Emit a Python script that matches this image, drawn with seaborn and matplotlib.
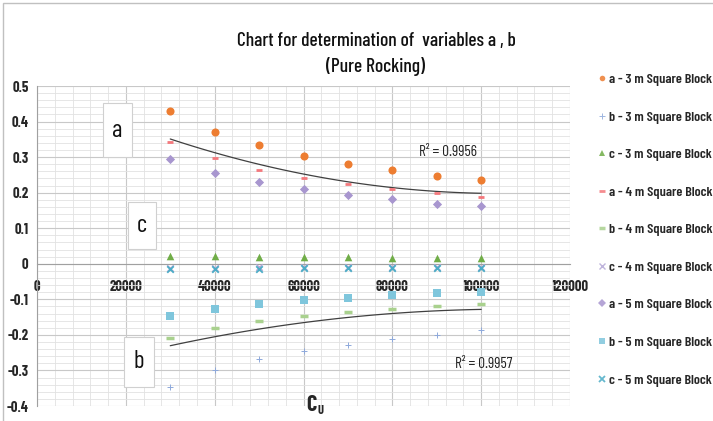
import numpy as np
import pandas as pd
import matplotlib
matplotlib.use("Agg")
import matplotlib.pyplot as plt
from matplotlib.patches import Rectangle
from matplotlib.ticker import MultipleLocator
from matplotlib.lines import Line2D
import seaborn as sns

sns.set_style("white")
FONT = ["Barlow Condensed", "Roboto Condensed", "Archivo Narrow", "DejaVu Sans"]
plt.rcParams["font.family"] = FONT

cu = [30000, 40000, 50000, 60000, 70000, 80000, 90000, 100000]

a_3m = [0.430, 0.372, 0.334, 0.304, 0.282, 0.263, 0.248, 0.236]
b_3m = [-0.347, -0.300, -0.268, -0.244, -0.228, -0.212, -0.199, -0.187]
c_3m = [0.022, 0.021, 0.020, 0.019, 0.018, 0.017, 0.016, 0.015]
a_4m = [0.342, 0.297, 0.264, 0.242, 0.223, 0.211, 0.198, 0.187]
b_4m = [-0.208, -0.181, -0.161, -0.146, -0.135, -0.126, -0.120, -0.112]
c_4m = [-0.012, -0.011, -0.010, -0.010, -0.009, -0.009, -0.009, -0.008]
a_5m = [0.295, 0.256, 0.229, 0.209, 0.193, 0.181, 0.169, 0.162]
b_5m = [-0.146, -0.127, -0.113, -0.103, -0.096, -0.089, -0.083, -0.078]
c_5m = [-0.016, -0.015, -0.014, -0.013, -0.012, -0.012, -0.011, -0.011]

series = [
    ("a - 3 m Square Block", a_3m, "o", "#ED7D31", 34, 0.0),
    ("b - 3 m Square Block", b_3m, "+", "#8EA9DB", 25, 0.7),
    ("c - 3 m Square Block", c_3m, "^", "#70AD47", 30, 0.0),
    ("a - 4 m Square Block", a_4m, "_", "#F4787C", 16, 2.0),
    ("b - 4 m Square Block", b_4m, "_", "#A9D18E", 30, 2.5),
    ("c - 4 m Square Block", c_4m, "x", "#B4A7D6", 22, 1.0),
    ("a - 5 m Square Block", a_5m, "D", "#A896CF", 22, 0.0),
    ("b - 5 m Square Block", b_5m, "s", "#7FC6DC", 30, 0.0),
    ("c - 5 m Square Block", c_5m, "x", "#4BACC6", 22, 1.3),
]

fig = plt.figure(figsize=(7.13, 4.21), dpi=100)
ax = fig.add_axes([37 / 713, 1 - 406 / 421, (570 - 37) / 713, (406 - 86) / 421])

ax.set_xlim(0, 120000)
ax.set_ylim(-0.4, 0.5)
ax.xaxis.set_major_locator(MultipleLocator(20000))
ax.xaxis.set_minor_locator(MultipleLocator(4000))
ax.yaxis.set_major_locator(MultipleLocator(0.1))
ax.yaxis.set_minor_locator(MultipleLocator(0.02))
ax.grid(which="major", color="#c8c8c8", linewidth=0.8)
ax.grid(which="minor", color="#e2e2e2", linewidth=0.6)
ax.set_axisbelow(True)

handles = []
for label, vals, mk, col, s, lw in series:
    if mk in ("+", "x", "_"):
        sns.scatterplot(x=cu, y=vals, marker=mk, color=col, s=s, linewidth=lw, ax=ax, zorder=3)
    else:
        sns.scatterplot(x=cu, y=vals, marker=mk, color=col, s=s, linewidth=0, ax=ax, zorder=3)
    handles.append(Line2D([], [], linestyle="none", marker=mk, color=col, alpha=0.85,
                          markersize=4 if mk not in ("+", "x", "_") else 5,
                          markeredgewidth=lw if lw else 0, label=label))

# polynomial (order 2) trendlines through all a and all b points
x_all = cu * 3
a_all = a_3m + a_4m + a_5m
b_all = b_3m + b_4m + b_5m
sns.regplot(x=x_all, y=a_all, order=2, ci=None, scatter=False, truncate=True,
            line_kws=dict(color="#404040", linewidth=0.9), ax=ax)
sns.regplot(x=x_all, y=b_all, order=2, ci=None, scatter=False, truncate=True,
            line_kws=dict(color="#404040", linewidth=0.9), ax=ax)

ax.text(86000, 0.313, "R² = 0.9956", fontsize=11, family=FONT, ha="left", va="center", color="#222222")
ax.text(94000, -0.282, "R² = 0.9957", fontsize=11, family=FONT, ha="left", va="center", color="#222222")

# spines: x axis crosses at y=0
for sp in ["top", "right"]:
    ax.spines[sp].set_visible(False)
ax.spines["bottom"].set_position(("data", 0))
ax.spines["bottom"].set_color("#a0a0a0")
ax.spines["left"].set_color("#a0a0a0")
ax.spines["bottom"].set_linewidth(0.8)
ax.spines["left"].set_linewidth(0.8)
ax.tick_params(axis="both", which="both", length=0)
ax.tick_params(axis="x", pad=12)
ax.tick_params(axis="y", pad=6)
ax.set_xticks([0, 20000, 40000, 60000, 80000, 100000, 120000])
ax.set_xticklabels(["0", "20000", "40000", "60000", "80000", "100000", "120000"])
ax.set_yticks([-0.4, -0.3, -0.2, -0.1, 0, 0.1, 0.2, 0.3, 0.4, 0.5])
ax.set_yticklabels(["-0.4", "-0.3", "-0.2", "-0.1", "0", "0.1", "0.2", "0.3", "0.4", "0.5"])
for t in ax.get_xticklabels() + ax.get_yticklabels():
    t.set_fontsize(10.5)
    t.set_fontweight("bold")
    t.set_family(FONT)
ax.set_xlabel("")
ax.set_ylabel("")

# label boxes a, c, b
for (x0, x1, y0, y1, txt) in [(14800, 21400, 0.300, 0.452, "a"),
                              (20500, 26700, 0.042, 0.173, "c"),
                              (19500, 26300, -0.346, -0.206, "b")]:
    ax.add_patch(Rectangle((x0, y0), x1 - x0, y1 - y0, facecolor="white",
                           edgecolor="#d0d0d0", linewidth=0.8, zorder=4))
    ax.text((x0 + x1) / 2, (y0 + y1) / 2, txt, fontsize=18, family=FONT,
            ha="center", va="center", zorder=5, color="#111111")

# title
fig.text(376 / 713, 1 - 41 / 421, "Chart for determination of  variables a , b",
         fontsize=14, family=FONT, fontweight="medium", ha="center", va="center", color="#111111")
fig.text(376 / 713, 1 - 67 / 421, "(Pure Rocking)",
         fontsize=14, family=FONT, fontweight="medium", ha="center", va="center", color="#111111")

# x label
fig.text(311 / 713, 1 - 405 / 421, "C", fontsize=16, fontweight="bold", family=FONT,
         ha="center", va="center")
fig.text(317 / 713, 1 - 411 / 421, "U", fontsize=9, fontweight="bold", family=FONT,
         ha="left", va="center")

# legend
leg = fig.legend(handles=handles, loc="upper left", bbox_to_anchor=(591 / 713, 1 - 66 / 421),
                 frameon=False, prop=dict(family=FONT, size=10.2, weight="semibold"),
                 labelspacing=1.74, handlelength=0.5, handletextpad=0.3, borderpad=0)

# outer chart frame
fig.add_artist(Rectangle((3 / 713, -0.01), 1.0, 1 - 3 / 421 + 0.01, transform=fig.transFigure,
                         fill=False, edgecolor="#c0c0c0", linewidth=1.0))

fig.savefig("out.png", dpi=100)
